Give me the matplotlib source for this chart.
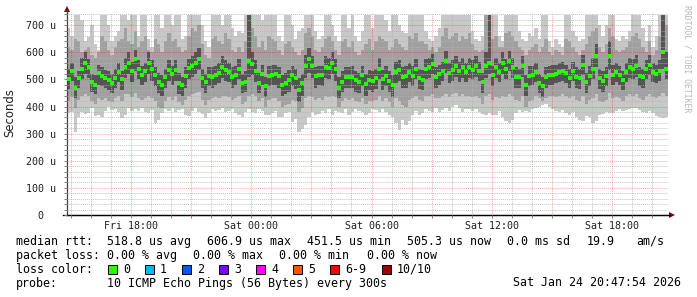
import matplotlib
matplotlib.use('Agg')
import matplotlib.pyplot as plt
import matplotlib.dates as mdates
from matplotlib.ticker import MultipleLocator, FuncFormatter
from matplotlib.patches import Rectangle
from datetime import datetime, timedelta

W, H = 697, 297
START = datetime(2026, 1, 23, 14, 48)
STEP_MIN = 10

# per-column values (microseconds), 10-minute columns
med = [500,530,470,505,540,560,545,490,480,525,512,505,498,488,505,528,500,545,560,530,
       575,540,518,530,562,538,515,490,480,510,534,520,535,486,478,512,542,548,562,575,
       506,490,514,510,518,524,546,535,526,510,518,538,486,492,568,558,532,488,520,475,
       514,518,520,512,480,486,498,516,506,462,486,548,575,548,512,518,518,546,542,560,
       538,470,492,508,510,510,498,490,515,482,498,496,505,540,500,514,496,480,526,534,
       508,512,528,514,538,506,498,540,545,558,510,520,532,568,524,536,548,530,545,528,
       545,536,548,530,490,548,560,516,544,528,562,540,568,546,510,508,550,480,514,516,
       526,488,474,508,516,518,520,526,530,522,506,532,508,504,552,490,512,540,588,504,
       494,512,588,518,526,516,498,528,546,540,550,512,508,538,552,526,520,532,600,540]
vmax = [690,660,737,737,720,640,655,700,630,610,737,737,700,640,660,680,737,737,720,737,
        737,660,737,737,650,620,737,737,690,737,737,700,737,737,650,660,737,737,737,737,
        700,640,620,737,737,737,700,737,737,690,660,680,670,737,737,737,737,737,720,737,
        737,737,737,660,640,737,737,700,650,680,690,737,737,737,680,650,660,737,737,700,
        660,640,737,737,690,737,660,640,680,737,737,690,737,737,737,720,680,737,737,700,
        680,670,737,737,737,737,737,680,650,640,660,690,737,737,737,737,737,737,737,737,
        737,680,650,640,660,737,737,737,737,660,640,737,737,737,737,680,650,640,670,660,
        690,650,737,737,640,620,650,630,620,737,737,680,660,640,650,737,737,737,737,700,
        660,700,737,737,650,640,660,650,680,737,737,737,690,640,700,620,660,737,737,737]
hi = [620,610,650,640,600,610,620,590,580,600,660,640,610,590,620,640,650,690,640,630,
      680,620,640,660,610,600,650,630,600,640,670,640,650,620,600,610,660,690,680,700,
      630,590,580,650,660,640,630,670,650,610,600,620,600,640,737,690,660,620,640,610,
      660,650,640,610,590,630,640,620,600,590,610,670,690,660,610,600,620,650,660,640,
      610,590,640,650,620,640,600,590,610,630,650,610,640,660,650,640,610,620,650,630,
      620,610,660,650,670,640,640,630,610,620,600,620,660,690,650,660,670,640,660,650,
      670,630,610,600,610,737,737,650,660,620,620,670,680,660,640,620,610,590,610,620,
      630,600,620,650,600,590,610,600,590,650,640,620,600,590,610,630,660,680,690,620,
      600,630,690,660,610,600,610,620,640,660,670,650,620,600,640,590,610,660,737,700]
dhi = [540,560,510,530,580,600,575,520,515,555,545,535,530,520,540,560,530,580,600,565,
       610,570,550,560,600,570,545,525,515,540,570,550,570,525,510,545,575,585,600,615,
       540,520,545,545,550,560,585,570,560,545,550,575,520,530,737,600,570,525,555,510,
       550,555,555,545,515,525,535,550,540,505,520,590,615,585,545,550,550,585,580,600,
       575,510,530,545,545,550,530,525,550,520,535,530,540,580,535,550,530,515,565,570,
       545,550,560,550,575,540,535,575,580,595,545,555,565,605,560,570,585,565,580,560,
       580,570,585,565,525,600,737,550,580,560,600,575,605,580,545,540,585,515,550,550,
       560,520,510,545,550,555,555,560,565,555,540,565,545,540,590,525,550,580,630,540,
       530,545,640,555,560,550,530,560,580,575,590,545,540,570,590,560,555,570,737,600]
dlo = [465,495,430,470,500,520,505,455,445,480,475,470,460,450,470,490,460,505,520,490,
       530,500,480,490,520,495,475,450,440,470,495,480,495,445,440,470,500,510,520,535,
       470,450,475,470,480,485,505,495,490,470,480,500,450,455,510,515,490,450,480,435,
       475,480,480,470,440,445,455,475,465,415,440,505,525,505,470,480,475,505,500,520,
       495,430,455,470,470,470,455,450,475,440,460,455,465,500,460,475,455,435,485,495,
       470,470,490,475,500,465,460,500,505,520,470,480,495,525,485,495,510,490,505,490,
       505,500,510,495,450,505,520,475,505,490,520,500,530,505,470,470,510,440,475,480,
       490,450,435,470,480,480,485,490,495,485,470,495,470,465,515,450,475,500,545,465,
       455,475,535,480,490,480,460,490,505,500,510,475,470,500,515,490,485,495,540,500]
lo = [420,435,395,425,440,445,440,420,410,430,425,430,420,415,430,440,420,445,445,435,
      450,430,425,430,440,430,420,400,395,420,435,425,440,415,405,425,440,445,450,455,
      425,405,425,430,435,430,440,440,435,425,430,440,410,415,440,445,440,420,430,400,
      425,430,430,420,400,405,410,425,420,380,395,430,440,435,425,430,425,440,435,440,
      435,400,420,430,425,430,420,415,430,410,420,420,425,440,420,430,415,400,430,420,
      405,400,425,430,440,425,420,440,440,445,430,430,440,445,435,445,450,440,445,440,
      440,435,440,430,410,440,445,425,435,430,440,435,445,440,425,420,440,400,420,425,
      440,430,420,430,440,440,435,440,445,440,430,440,425,420,440,410,425,430,445,420,
      415,425,450,430,435,430,420,440,445,440,445,430,425,440,445,435,430,440,450,440]
vmin = [375,380,307,360,380,372,378,395,365,370,362,385,398,388,392,380,356,370,395,385,
        390,382,395,380,375,388,338,350,378,390,385,395,380,388,392,370,365,385,395,380,
        372,356,375,392,385,388,395,380,385,390,378,370,362,380,390,381,375,392,385,370,
        368,375,385,362,360,375,380,344,355,307,318,332,360,380,368,372,385,378,390,368,
        385,381,375,390,368,380,392,385,381,368,375,390,387,380,392,381,370,360,340,313,
        350,332,345,370,385,368,375,390,385,381,395,381,388,395,385,400,405,395,381,390,
        390,385,392,380,372,368,378,368,370,385,362,345,338,350,375,388,381,385,380,392,
        395,400,405,408,398,390,385,381,388,375,370,381,360,352,345,365,362,340,348,370,
        372,380,375,378,385,390,382,388,392,395,393,388,380,375,382,378,365,362,356,362]

y_ticks = [0, 100, 200, 300, 400, 500, 600, 700]
y_labels = ["0  ", "100 u", "200 u", "300 u", "400 u", "500 u", "600 u", "700 u"]

legend_lines = [
    (241.5, [(16, "median rtt:"), (107, "518.8 us avg"), (207, "606.9 us max"),
             (307, "451.5 us min"), (407, "505.3 us now"), (507, "0.0 ms sd"),
             (587, "19.9"), (636, "am/s")]),
    (255.5, [(16, "packet loss:"), (107, "0.00 % avg"), (193, "0.00 % max"),
             (279, "0.00 % min"), (367, "0.00 % now")]),
    (283.0, [(16, "probe:"), (107, "10 ICMP Echo Pings (56 Bytes) every 300s"),
             (513, "Sat Jan 24 20:47:54 2026")]),
]
loss_labels = ["0", "1", "2", "3", "4", "5", "6-9", "10/10"]
loss_colors = ["#26ff00", "#00b8ff", "#0059ff", "#7e00ff", "#ff00ff", "#ff5500", "#ff0000", "#a00000"]
loss_box_x = [108, 145, 182, 219, 256, 293, 330, 382]

MONO = 'DejaVu Sans Mono'

fig = plt.figure(figsize=(W / 100, H / 100), dpi=100)
fig.patch.set_facecolor('white')
ax = fig.add_axes([67 / W, (H - 215) / H, (668 - 67) / W, (215 - 13) / H])
ax.set_facecolor('white')

n = len(med)
edges = [START + timedelta(minutes=STEP_MIN * i) for i in range(n + 1)]
centers = [START + timedelta(minutes=STEP_MIN * i + STEP_MIN / 2) for i in range(n)]

def ext(a):
    return list(a) + [a[-1]]

ax.fill_between(edges, ext(vmin), ext(vmax), step='post', color='#c8c8c8', lw=0, zorder=1)
ax.fill_between(edges, ext(lo), ext(hi), step='post', color='#a0a0a0', lw=0, zorder=1.1)
ax.fill_between(edges, ext(dlo), ext(dhi), step='post', color='#555555', lw=0, zorder=1.2)
ax.plot(centers, med, ls='none', marker='s', ms=2.4, mew=0, color='#26ff00', zorder=4)

ax.set_xlim(edges[0], edges[-1])
ax.set_ylim(0, 745)

# grid
ax.xaxis.set_major_locator(mdates.HourLocator(byhour=range(0, 24, 3)))
ax.xaxis.set_minor_locator(mdates.HourLocator())
def xfmt(x, pos):
    d = mdates.num2date(x)
    return d.strftime('%a %H:%M') if d.hour % 6 == 0 else ''
ax.xaxis.set_major_formatter(FuncFormatter(xfmt))
ax.set_yticks(y_ticks)
ax.set_yticklabels(y_labels)
ax.yaxis.set_minor_locator(MultipleLocator(20))

ax.set_axisbelow(False)
ax.grid(which='minor', color='#b4b4b4', alpha=0.8, lw=0.7, ls=(0, (1, 1)))
ax.grid(which='major', color='#ff0000', alpha=0.35, lw=0.7, ls=(0, (1, 1)))

ax.tick_params(axis='both', which='both', direction='out', colors='#808080',
               labelcolor='#202020', labelsize=7.2)
ax.tick_params(axis='x', which='major', length=2, width=0.7, pad=2)
ax.tick_params(axis='x', which='minor', length=2, width=0.7)
ax.tick_params(axis='y', which='major', length=2, width=0.7, pad=6)
ax.tick_params(axis='y', which='minor', length=2, width=0.7)
for lab in ax.get_xticklabels() + ax.get_yticklabels():
    lab.set_family(MONO)

for s in ['top', 'right']:
    ax.spines[s].set_visible(False)
ax.spines['left'].set_color('#404040')
ax.spines['bottom'].set_color('#000000')
ax.spines['left'].set_linewidth(0.9)
ax.spines['bottom'].set_linewidth(0.9)
ax.spines['left'].set_bounds(0, 745)

# arrows
ax.plot([0], [1.0 + 4 / 202], marker='^', ms=4, color='#7f0000', transform=ax.transAxes,
        clip_on=False, mew=0)
ax.plot([0, 0], [1.0, 1.0 + 3 / 202], color='#404040', lw=0.9, transform=ax.transAxes, clip_on=False)
ax.plot([1.0 + 4 / 601], [0], marker='>', ms=4, color='#7f0000', transform=ax.transAxes,
        clip_on=False, mew=0)
ax.plot([-4 / 601, 1.0 + 2 / 601], [0, 0], color='#000000', lw=0.9, transform=ax.transAxes, clip_on=False)

fig.text(10 / W, 1 - 113 / H, "Seconds", rotation=90, ha='center', va='center',
         family='DejaVu Sans', fontsize=8.4, color='#202020')
fig.text(687 / W, 1 - 59 / H, "RRDTOOL / TOBI OETIKER", rotation=270, ha='center', va='center',
         family=MONO, fontsize=5.9, color='#b8b8b8')

for yy, segs in legend_lines:
    for xx, s in segs:
        fig.text(xx / W, 1 - yy / H, s, ha='left', va='center', family=MONO, fontsize=8.4, color='#000000')

fig.text(16 / W, 1 - 269.5 / H, "loss color:", ha='left', va='center', family=MONO, fontsize=8.4, color='#000000')
for bx, c, lab in zip(loss_box_x, loss_colors, loss_labels):
    fig.add_artist(Rectangle((bx / W, 1 - 274 / H), 9 / W, 9 / H, transform=fig.transFigure,
                             facecolor=c, edgecolor='black', lw=0.7))
    fig.text((bx + 15) / W, 1 - 269.5 / H, lab, ha='left', va='center', family=MONO,
             fontsize=8.4, color='#000000')

fig.savefig('out.png', dpi=100, facecolor='white')
